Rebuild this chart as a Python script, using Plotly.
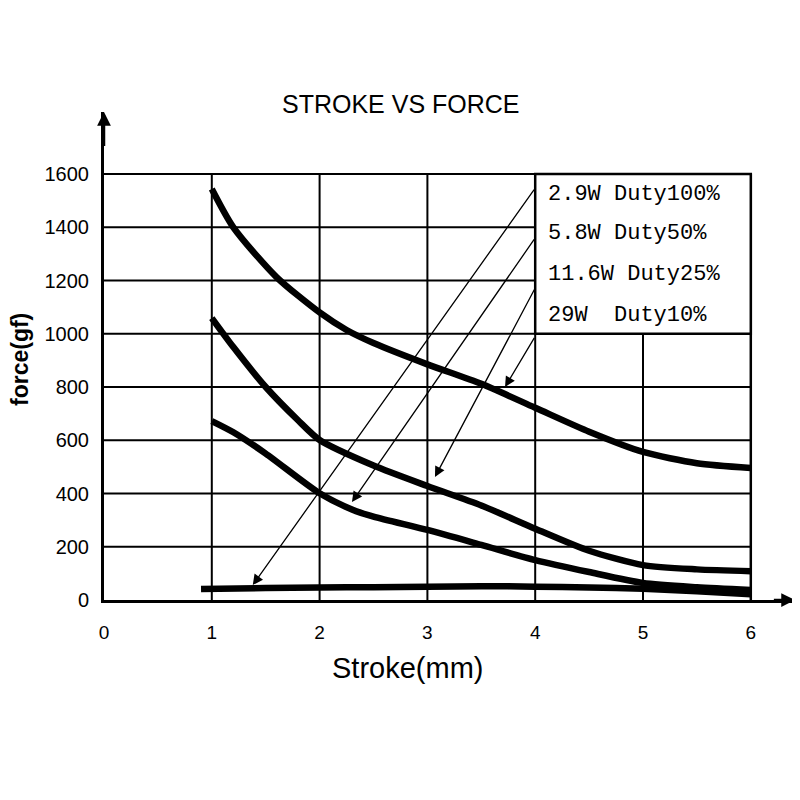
import plotly.graph_objects as go

# series (stroke in mm, force in gf)
x_29w = [1, 1.2, 1.6, 2, 2.25, 2.5, 3, 3.5, 4, 4.5, 5, 5.5, 6]
f_29w = [1544, 1400, 1213, 1080, 1014, 965, 885, 812, 722, 632, 556, 514, 496]

x_116w = [1, 1.2, 1.5, 1.8, 2, 2.5, 3, 3.5, 4, 4.5, 5, 5.5, 6]
f_116w = [1059, 950, 800, 675, 601, 505, 428, 355, 268, 185, 131, 115, 108]

x_58w = [1, 1.2, 1.5, 2, 2.3, 2.5, 3, 3.5, 4, 4.5, 5, 5.5, 6]
f_58w = [672, 630, 550, 401, 340, 313, 263, 207, 150, 105, 64, 48, 38]

x_29w_full = [0.9, 1.5, 2, 2.5, 3, 3.5, 4, 4.5, 5, 5.5, 6]
f_29w_full = [41, 45, 47, 48, 50, 52, 50, 47, 42, 33, 22]

legend_labels = ["2.9W Duty100%", "5.8W Duty50%", "11.6W Duty25%", "29W  Duty10%"]
label_y = [1525, 1378, 1221, 1067]
# arrow from legend box edge to the curve it names
arrow_tail_y = [1547, 1360, 1172, 990]
arrow_head_x = [1.38, 2.3, 3.07, 3.72]
arrow_head_y = [56, 368, 462, 800]

x_ticks = [0, 1, 2, 3, 4, 5, 6]
y_ticks = [0, 200, 400, 600, 800, 1000, 1200, 1400, 1600]

fig = go.Figure()

for xs, ys, name in [(x_29w, f_29w, "29W Duty10%"),
                     (x_116w, f_116w, "11.6W Duty25%"),
                     (x_58w, f_58w, "5.8W Duty50%"),
                     (x_29w_full, f_29w_full, "2.9W Duty100%")]:
    fig.add_trace(go.Scatter(x=xs, y=ys, mode="lines", name=name,
                             line=dict(color="black", width=6.5, shape="spline", smoothing=0.7)))

# grid drawn as shapes so the axes can run past it to their arrows
shapes = []
for v in y_ticks[1:]:
    shapes.append(dict(type="line", xref="x", yref="y", x0=0, x1=6, y0=v, y1=v,
                       line=dict(color="black", width=2), layer="below"))
for xv in x_ticks[1:]:
    shapes.append(dict(type="line", xref="x", yref="y", x0=xv, x1=xv, y0=0, y1=1600,
                       line=dict(color="black", width=2.5 if xv == 6 else 2), layer="below"))
# legend box
shapes.append(dict(type="rect", xref="x", yref="y", x0=4, x1=6, y0=1000, y1=1600,
                   fillcolor="white", line=dict(color="black", width=2.5), layer="below"))

annotations = []
for lab, ly in zip(legend_labels, label_y):
    annotations.append(dict(x=4.1, y=ly, xref="x", yref="y", text=lab, showarrow=False,
                            xanchor="left", yanchor="middle",
                            font=dict(family="Liberation Mono", size=22, color="black")))
for ty, hx, hy in zip(arrow_tail_y, arrow_head_x, arrow_head_y):
    annotations.append(dict(x=hx, y=hy, xref="x", yref="y", ax=4.0, ay=ty, axref="x", ayref="y",
                            text="", showarrow=True, arrowhead=2, arrowsize=1.6,
                            arrowwidth=1.3, arrowcolor="black"))
# axis arrows
annotations.append(dict(x=6.41, y=0, xref="x", yref="y", ax=6.2, ay=0, axref="x", ayref="y",
                        text="", showarrow=True, arrowhead=2, arrowsize=1.1, arrowwidth=2.5,
                        arrowcolor="black"))
annotations.append(dict(x=0, y=1833, xref="x", yref="y", ax=0, ay=1700, axref="x", ayref="y",
                        text="", showarrow=True, arrowhead=2, arrowsize=1.1, arrowwidth=2.5,
                        arrowcolor="black"))
# titles (paper coords: plot spans 691 x 488 px)
annotations.append(dict(x=(401 - 104) / 691, y=(600 - 104) / 488, xref="paper", yref="paper",
                        text="STROKE VS FORCE", showarrow=False, xanchor="center", yanchor="middle",
                        font=dict(family="Liberation Sans", size=25, color="black")))
annotations.append(dict(x=(407 - 104) / 691, y=-(668 - 600) / 488, xref="paper", yref="paper",
                        text="Stroke(mm)", showarrow=False, xanchor="center", yanchor="middle",
                        font=dict(family="Liberation Sans", size=29, color="black")))
annotations.append(dict(x=-(104 - 20) / 691, y=(600 - 360) / 488, xref="paper", yref="paper",
                        text="<b>force(gf)</b>", showarrow=False, textangle=-90,
                        xanchor="center", yanchor="middle",
                        font=dict(family="Liberation Sans", size=23, color="black")))

fig.update_layout(
    width=792, height=792,
    margin=dict(l=96, r=5, t=104, b=200),
    paper_bgcolor="white", plot_bgcolor="white",
    showlegend=False,
    shapes=shapes,
    annotations=annotations,
    xaxis=dict(range=[0, 6.41], tickvals=x_ticks, showgrid=False, zeroline=False,
               showline=True, linecolor="black", linewidth=3, ticks="",
               ticklabelstandoff=13,
               tickfont=dict(family="Liberation Sans", size=19, color="black")),
    yaxis=dict(range=[0, 1833], tickvals=y_ticks, showgrid=False, zeroline=False,
               showline=True, linecolor="black", linewidth=3, ticks="",
               ticklabelstandoff=8,
               tickfont=dict(family="Liberation Sans", size=20, color="black")),
)

fig.write_html("out.html")
